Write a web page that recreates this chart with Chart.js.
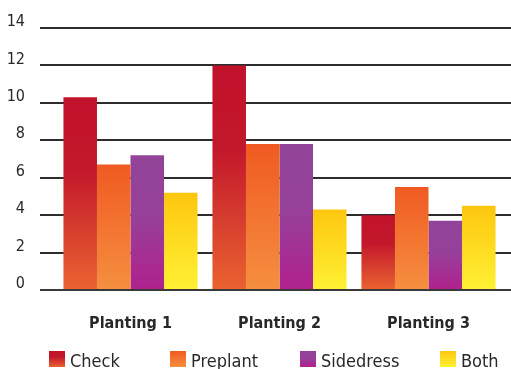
<!DOCTYPE html>
<html>
<head>
<meta charset="utf-8">
<script src="https://cdn.jsdelivr.net/npm/chart.js@4/dist/chart.umd.min.js"></script>
<style>
  html, body { margin: 0; padding: 0; background: #ffffff; }
  #wrap { width: 511px; height: 369px; position: relative; }
</style>
</head>
<body>
<div id="wrap"><canvas id="chart"></canvas></div>
<script>
// Categories and series values
const categories = ['Planting 1', 'Planting 2', 'Planting 3'];
const seriesNames = ['Check', 'Preplant', 'Sidedress', 'Both'];
const checkValues = [10.3, 12.0, 4.0];
const preplantValues = [6.7, 7.8, 5.5];
const sidedressValues = [7.2, 7.8, 3.7];
const bothValues = [5.2, 4.3, 4.5];
const yTicks = [0, 2, 4, 6, 8, 10, 12, 14];

// Vertical gradient stops per series (top of bar -> base)
const gradientStops = [
  [[0, '#c1122b'], [0.38, '#c3182b'], [1, '#ea6330']],
  [[0, '#f05a22'], [1, '#f58f3f']],
  [[0, '#914498'], [0.45, '#96409a'], [1, '#b0218c']],
  [[0, '#fdc60e'], [1, '#fff134']]
];

const FONT = '"DejaVu Sans Condensed", "Liberation Sans Narrow", "Liberation Sans", sans-serif';
const TEXT = '#2a2728';

function makeGradient(ctx, stops, top, bottom) {
  const g = ctx.createLinearGradient(0, top, 0, bottom);
  stops.forEach(s => g.addColorStop(s[0], s[1]));
  return g;
}

function barFill(seriesIndex) {
  return function (context) {
    const chart = context.chart;
    const area = chart.chartArea;
    if (!area || context.type !== 'data') return gradientStops[seriesIndex][0][1];
    const y = chart.scales.y;
    const v = context.dataset.data[context.dataIndex];
    const top = y.getPixelForValue(v);
    const base = y.getPixelForValue(0);
    return makeGradient(chart.ctx, gradientStops[seriesIndex], top, base);
  };
}

const allValues = [checkValues, preplantValues, sidedressValues, bothValues];

// Full-width horizontal rules at each y tick
const ruleLines = {
  id: 'ruleLines',
  beforeDatasetsDraw(chart) {
    const ctx = chart.ctx;
    const y = chart.scales.y;
    ctx.save();
    ctx.strokeStyle = '#2e2c2d';
    ctx.lineWidth = 2;
    yTicks.forEach(t => {
      const py = Math.round(y.getPixelForValue(t));
      ctx.beginPath();
      ctx.moveTo(40, py);
      ctx.lineTo(chart.width, py);
      ctx.stroke();
    });
    ctx.restore();
  },
  afterDatasetsDraw(chart) {
    // baseline drawn over the bar bottoms
    const ctx = chart.ctx;
    const y = chart.scales.y;
    const py = Math.round(y.getPixelForValue(0));
    ctx.save();
    ctx.strokeStyle = '#3a3839';
    ctx.lineWidth = 2;
    ctx.beginPath();
    ctx.moveTo(40, py);
    ctx.lineTo(chart.width, py);
    ctx.stroke();
    ctx.restore();
  }
};

// Legend row with gradient swatches
const gradientLegend = {
  id: 'gradientLegend',
  afterDraw(chart) {
    const ctx = chart.ctx;
    const boxX = [49, 170, 300, 440];
    const boxTop = 351, boxSize = 16;
    ctx.save();
    ctx.font = '18px ' + FONT;
    ctx.textBaseline = 'alphabetic';
    seriesNames.forEach((name, i) => {
      ctx.fillStyle = makeGradient(ctx, gradientStops[i], boxTop, boxTop + boxSize);
      ctx.fillRect(boxX[i], boxTop, boxSize, boxSize);
      ctx.fillStyle = TEXT;
      ctx.fillText(name, boxX[i] + 21, 367);
    });
    ctx.restore();
  }
};

new Chart(document.getElementById('chart'), {
  type: 'bar',
  data: {
    labels: categories,
    datasets: seriesNames.map((name, i) => ({
      label: name,
      data: allValues[i],
      backgroundColor: barFill(i),
      borderWidth: 0,
      categoryPercentage: 0.9,
      barPercentage: 1.0
    }))
  },
  options: {
    responsive: true,
    maintainAspectRatio: false,
    animation: false,
    layout: { padding: { top: 28, right: 8, bottom: 0, left: 0 } },
    plugins: {
      legend: { display: false },
      tooltip: { enabled: false }
    },
    scales: {
      x: {
        grid: { display: false, drawTicks: false },
        border: { display: false },
        ticks: {
          color: TEXT,
          font: { family: FONT, size: 16, weight: 'bold' },
          padding: 24,
          maxRotation: 0
        },
        afterFit(scale) {
          scale.height = 79;
          scale.paddingLeft = 0;
          scale.paddingRight = 0;
        }
      },
      y: {
        min: 0,
        max: 14,
        afterBuildTicks(scale) { scale.ticks = yTicks.map(v => ({ value: v })); },
        grid: { display: false, drawTicks: false },
        border: { display: false },
        ticks: {
          color: TEXT,
          font: { family: FONT, size: 16 },
          padding: 31,
          labelOffset: -6
        },
        afterFit(scale) {
          scale.width = 56;
          scale.paddingTop = 0;
          scale.paddingBottom = 0;
        }
      }
    }
  },
  plugins: [ruleLines, gradientLegend]
});
</script>
</body>
</html>
